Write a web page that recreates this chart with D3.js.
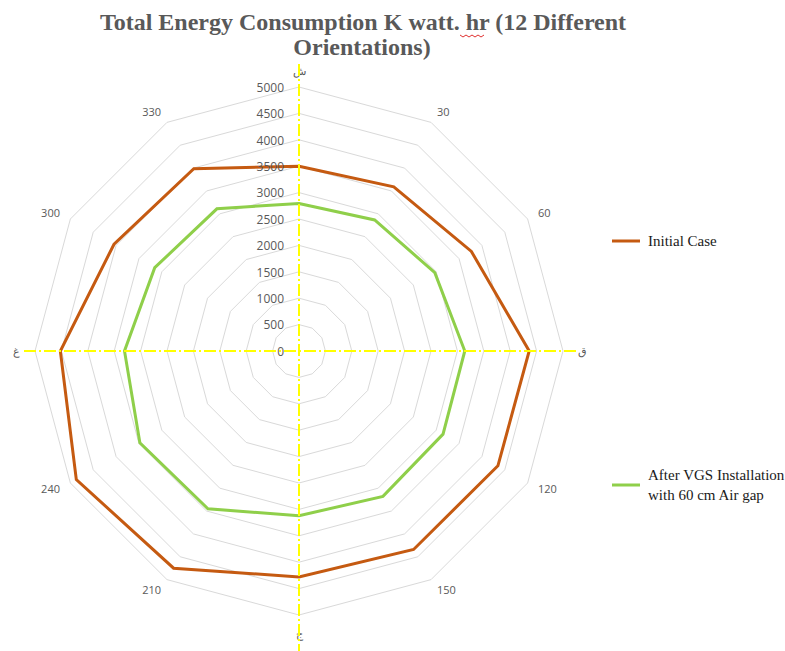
<!DOCTYPE html>
<html lang="en">
<head>
<meta charset="UTF-8">
<title>Total Energy Consumption</title>
<script src="https://cdn.jsdelivr.net/npm/d3@7"></script>
<style>
    body { margin: 0; background: #fff; }
    svg { display: block; }
    .tick text, .cat { font-family: "Open Sans", "Liberation Sans", sans-serif; fill: #595959; }
    .title { font-family: "Liberation Serif", "Times New Roman", serif; font-weight: bold; fill: #595959; }
    .legend text { font-family: "Liberation Serif", "Times New Roman", serif; fill: #1a1a1a; }
</style>
</head>
<body>
<script>
// orientations (degrees) and their labels, N/E/S/W in Arabic
const angles = [0, 30, 60, 90, 120, 150, 180, 210, 240, 270, 300, 330];
const catLabels = ["ش", "30", "60", "ق", "120", "150", "ج", "210", "240", "غ", "300", "330"];

// series values, K watt.hr
const initialCase = [3500, 3590, 3770, 4360, 4350, 4340, 4280, 4750, 4870, 4520, 4045, 3985];
const afterVGS = [2795, 2865, 2970, 3140, 3150, 3180, 3120, 3450, 3480, 3305, 3155, 3110];

const ticks = [0, 500, 1000, 1500, 2000, 2500, 3000, 3500, 4000, 4500, 5000];

const seriesNames = [["Initial Case"], ["After VGS Installation", "with 60 cm Air gap"]];
const seriesColors = ["#c55a11", "#8fcf4a"];

/*------------------- layout --------------------*/
const width = 785, height = 651;
const cx = 299, cy = 351, R = 264;

const svg = d3.select("body").append("svg")
    .attr("width", width)
    .attr("height", height);

const r = d3.scaleLinear().domain([0, 5000]).range([0, R]);
const ang = d3.scaleLinear().domain([0, 360]).range([0, 2 * Math.PI]);

const g = svg.append("g").attr("transform", `translate(${cx},${cy})`);

const radial = d3.lineRadial()
    .angle((d, i) => ang(angles[i]))
    .radius(d => r(d))
    .curve(d3.curveLinearClosed);

/*------------------- grid rings --------------------*/
g.selectAll("path.ring")
    .data(ticks.slice(1))
    .enter()
    .append("path")
    .attr("class", "ring")
    .attr("d", t => radial(angles.map(() => t)))
    .attr("fill", "none")
    .attr("stroke", "#d9d9d9")
    .attr("stroke-width", 1);

/*------------------- series --------------------*/
[initialCase, afterVGS].forEach((vals, k) => {
    g.append("path")
        .attr("d", radial(vals))
        .attr("fill", "none")
        .attr("stroke", seriesColors[k])
        .attr("stroke-width", 3)
        .attr("stroke-linejoin", "miter");
});

/*------------------- yellow cross --------------------*/
const dash = "12,3,2,3";
svg.append("line")
    .attr("x1", 24).attr("x2", 576)
    .attr("y1", cy).attr("y2", cy)
    .attr("stroke", "#ffff00").attr("stroke-width", 2)
    .attr("stroke-dasharray", dash);
svg.append("line")
    .attr("x1", cx).attr("x2", cx)
    .attr("y1", 64).attr("y2", height)
    .attr("stroke", "#ffff00").attr("stroke-width", 2)
    .attr("stroke-dasharray", dash);

/*------------------- value axis --------------------*/
const yAxis = d3.scaleLinear().domain([0, 5000]).range([0, -R]);
const axisG = g.append("g")
    .attr("transform", "translate(-15,0)")
    .call(d3.axisLeft(yAxis).tickValues(ticks).tickSize(0).tickPadding(0).tickFormat(d3.format("d")));
axisG.select(".domain").remove();
axisG.selectAll("text").attr("font-size", 12).attr("dy", "0.35em");

/*------------------- category labels --------------------*/
// cardinal labels sit a bit further out than the degree labels
const labelR = a => (a === 0 ? R + 16 : a % 90 === 0 ? R + 19 : R + 12);
g.selectAll("text.cat")
    .data(angles)
    .enter()
    .append("text")
    .attr("class", "cat")
    .attr("x", a => labelR(a) * Math.sin(ang(a)))
    .attr("y", a => -labelR(a) * Math.cos(ang(a)))
    .attr("dy", "0.35em")
    .attr("text-anchor", a => {
        const s = Math.sin(ang(a));
        return a % 90 === 0 ? "middle" : (s > 0 ? "start" : "end");
    })
    .attr("font-size", 11)
    .text((a, i) => catLabels[i]);

/*------------------- title --------------------*/
const title = svg.append("text")
    .attr("class", "title")
    .attr("text-anchor", "middle")
    .attr("font-size", 24);
title.append("tspan").attr("x", 363).attr("y", 30).text("Total Energy Consumption K watt. hr (12 Different");
title.append("tspan").attr("x", 362).attr("y", 55).text("Orientations)");

// spell-check squiggle under "hr"
const sq = d3.range(0, 9).map(i => [460 + i * 3, 35 + (i % 2 ? 2 : 0)]);
svg.append("path")
    .attr("d", d3.line()(sq))
    .attr("fill", "none")
    .attr("stroke", "#e03030")
    .attr("stroke-width", 1);

/*------------------- legend --------------------*/
const legendY = [241, 485];
const legend = svg.append("g").attr("class", "legend");
seriesNames.forEach((lines, k) => {
    legend.append("line")
        .attr("x1", 612).attr("x2", 640)
        .attr("y1", legendY[k]).attr("y2", legendY[k])
        .attr("stroke", seriesColors[k]).attr("stroke-width", 3);
    const t = legend.append("text").attr("font-size", 15);
    lines.forEach((s, j) => {
        t.append("tspan")
            .attr("x", 648)
            .attr("y", legendY[k] + 5 + (j - (lines.length - 1) / 2) * 20)
            .text(s);
    });
});
</script>
</body>
</html>
